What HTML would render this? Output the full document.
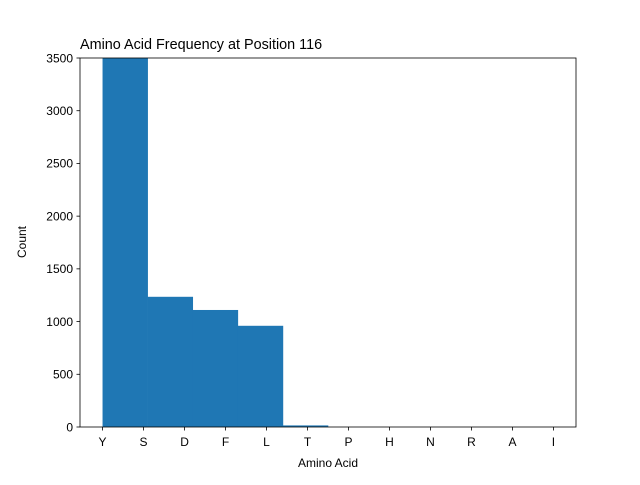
<!DOCTYPE html>
<html><head><meta charset="utf-8"><style>
body{margin:0;background:#fff;font-family:"Liberation Sans",sans-serif}
</style></head><body>
<svg width="640" height="480" xmlns="http://www.w3.org/2000/svg">
<defs><clipPath id="c"><rect x="80" y="58" width="496" height="369"/></clipPath></defs>
<text x="80" y="49" font-size="14.4">Amino Acid Frequency at Position 116</text>
<g id="bars" clip-path="url(#c)"></g>
<rect x="80" y="58" width="496" height="369" fill="none" stroke="#000" stroke-width="0.8"/>
<g id="xt"></g><g id="yt"></g>
<text x="328" y="467" font-size="12" text-anchor="middle">Amino Acid</text>
<text x="0" y="0" font-size="12" text-anchor="middle" transform="translate(26,242) rotate(-90)">Count</text>
</svg>
<script>
const categories=["Y","S","D","F","L","T","P","H","N","R","A","I"];
const binCounts=[4800,1235,1110,960,15,0,0,0,0,0];
const yTicks=[0,500,1000,1500,2000,2500,3000,3500];
const NS="http://www.w3.org/2000/svg";
const xs=v=>80+(v+0.55)*496/12.1;
const ys=v=>427-v*369/3500;
const bw=(categories.length-1)/binCounts.length;
const bars=document.getElementById('bars');
binCounts.forEach((c,k)=>{if(c<=0)return;
 const r=document.createElementNS(NS,'rect');
 const x0=xs(k*bw),x1=xs((k+1)*bw);
 r.setAttribute('x',x0);r.setAttribute('width',x1-x0+0.3);
 r.setAttribute('y',ys(c));r.setAttribute('height',ys(0)-ys(c));
 r.setAttribute('fill','#1f77b4');
 
 
 bars.appendChild(r);});
const xt=document.getElementById('xt');
categories.forEach((c,i)=>{const x=xs(i);
 const l=document.createElementNS(NS,'line');
 l.setAttribute('x1',x);l.setAttribute('x2',x);l.setAttribute('y1',427);l.setAttribute('y2',430.5);l.setAttribute('stroke','#000');l.setAttribute('stroke-width','0.8');
 
 
 xt.appendChild(l);
 const t=document.createElementNS(NS,'text');
 t.setAttribute('x',x);t.setAttribute('y',446);t.setAttribute('font-size','12');t.setAttribute('text-anchor','middle');t.textContent=c;
 
 
 xt.appendChild(t);});
const yt=document.getElementById('yt');
yTicks.forEach(v=>{const y=ys(v);
 const l=document.createElementNS(NS,'line');
 l.setAttribute('x1',76.5);l.setAttribute('x2',80);l.setAttribute('y1',y);l.setAttribute('y2',y);l.setAttribute('stroke','#000');l.setAttribute('stroke-width','0.8');
 
 
 yt.appendChild(l);
 const t=document.createElementNS(NS,'text');
 t.setAttribute('x',73);t.setAttribute('y',y+4.3);t.setAttribute('font-size','12');t.setAttribute('text-anchor','end');t.textContent=v;
 
 
 yt.appendChild(t);});
</script>
</body></html>
